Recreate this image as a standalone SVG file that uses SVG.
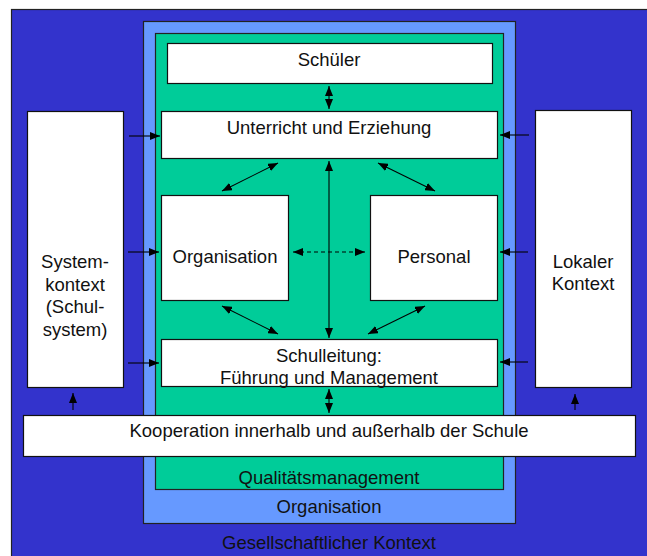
<svg xmlns="http://www.w3.org/2000/svg" width="647" height="556" viewBox="0 0 647 556">
<defs>
<marker id="ah" viewBox="0 0 10 8" refX="10" refY="4" markerWidth="10" markerHeight="8" markerUnits="userSpaceOnUse" orient="auto-start-reverse">
<path d="M0,0 L10,4 L0,8 z" fill="#000"/>
</marker>
<style>
.box{fill:#fff;stroke:#111;stroke-width:1.2}
.t{font-family:"Liberation Sans",Arial,sans-serif;font-size:18.5px;fill:#111;text-anchor:middle}
.c{stroke:#000;stroke-width:1.1;fill:none}
</style>
</defs>
<rect width="647" height="556" fill="#fff"/>
<g id="gesellschaft">
<rect x="11.5" y="9.5" width="650" height="560" fill="#3333CC" stroke="#222" stroke-width="1.2"/>
<text class="t" x="329" y="549">Gesellschaftlicher Kontext</text>
</g>
<g id="organisation-frame">
<rect x="143.5" y="21.5" width="372" height="502" fill="#6699FF" stroke="#222" stroke-width="1.2"/>
<text class="t" x="329" y="513">Organisation</text>
</g>
<g id="qualitaet">
<rect x="155.5" y="33.5" width="348" height="456" fill="#00CC99" stroke="#222" stroke-width="1.2"/>
<text class="t" x="329" y="484">Qualitätsmanagement</text>
</g>
<g id="schueler">
<rect class="box" x="167.5" y="43.5" width="325" height="40"/>
<text class="t" x="329" y="66">Schüler</text>
</g>
<g id="unterricht">
<rect class="box" x="161.5" y="111.5" width="336" height="47"/>
<text class="t" x="329" y="134">Unterricht und Erziehung</text>
</g>
<g id="organisation">
<rect class="box" x="161.5" y="195.5" width="127" height="105"/>
<text class="t" x="225" y="263">Organisation</text>
</g>
<g id="personal">
<rect class="box" x="370.5" y="195.5" width="127" height="105"/>
<text class="t" x="434" y="263">Personal</text>
</g>
<g id="schulleitung">
<rect class="box" x="161.5" y="339.5" width="336" height="47"/>
<text class="t" x="329" y="362">Schulleitung:</text>
<text class="t" x="329" y="384">Führung und Management</text>
</g>
<g id="systemkontext">
<rect class="box" x="27.5" y="111.5" width="96" height="276"/>
<text class="t" x="75" y="268">System-</text>
<text class="t" x="75" y="291">kontext</text>
<text class="t" x="75" y="313">(Schul-</text>
<text class="t" x="75" y="336">system)</text>
</g>
<g id="lokal">
<rect class="box" x="535.5" y="110.5" width="96" height="277"/>
<text class="t" x="583" y="268">Lokaler</text>
<text class="t" x="583" y="290">Kontext</text>
</g>
<g id="kooperation">
<rect class="box" x="23.5" y="415.5" width="612" height="41"/>
<text class="t" x="329" y="437">Kooperation innerhalb und außerhalb der Schule</text>
</g>
<g id="connectors">
<line class="c" x1="329" y1="86" x2="329" y2="109" marker-start="url(#ah)" marker-end="url(#ah)"/>
<line class="c" x1="329" y1="161" x2="329" y2="338" marker-start="url(#ah)" marker-end="url(#ah)"/>
<line class="c" x1="329" y1="389" x2="329" y2="413" marker-start="url(#ah)" marker-end="url(#ah)"/>
<line class="c" x1="278" y1="163" x2="222" y2="191" marker-start="url(#ah)" marker-end="url(#ah)"/>
<line class="c" x1="378" y1="163" x2="435" y2="191" marker-start="url(#ah)" marker-end="url(#ah)"/>
<line class="c" x1="222" y1="306" x2="278" y2="334" marker-start="url(#ah)" marker-end="url(#ah)"/>
<line class="c" x1="425" y1="306" x2="368" y2="334" marker-start="url(#ah)" marker-end="url(#ah)"/>
<line class="c" x1="293" y1="252" x2="365" y2="252" stroke-dasharray="4,3" marker-start="url(#ah)" marker-end="url(#ah)"/>
<line class="c" x1="129" y1="136" x2="160" y2="136" marker-end="url(#ah)"/>
<line class="c" x1="128" y1="252" x2="159" y2="252" marker-end="url(#ah)"/>
<line class="c" x1="128" y1="363" x2="159" y2="363" marker-end="url(#ah)"/>
<line class="c" x1="529" y1="135" x2="500" y2="135" marker-end="url(#ah)"/>
<line class="c" x1="528" y1="252" x2="500" y2="252" marker-end="url(#ah)"/>
<line class="c" x1="528" y1="362" x2="500" y2="362" marker-end="url(#ah)"/>
<line class="c" x1="73" y1="410" x2="73" y2="393" marker-end="url(#ah)"/>
<line class="c" x1="575" y1="410" x2="575" y2="394" marker-end="url(#ah)"/>
</g>
</svg>
